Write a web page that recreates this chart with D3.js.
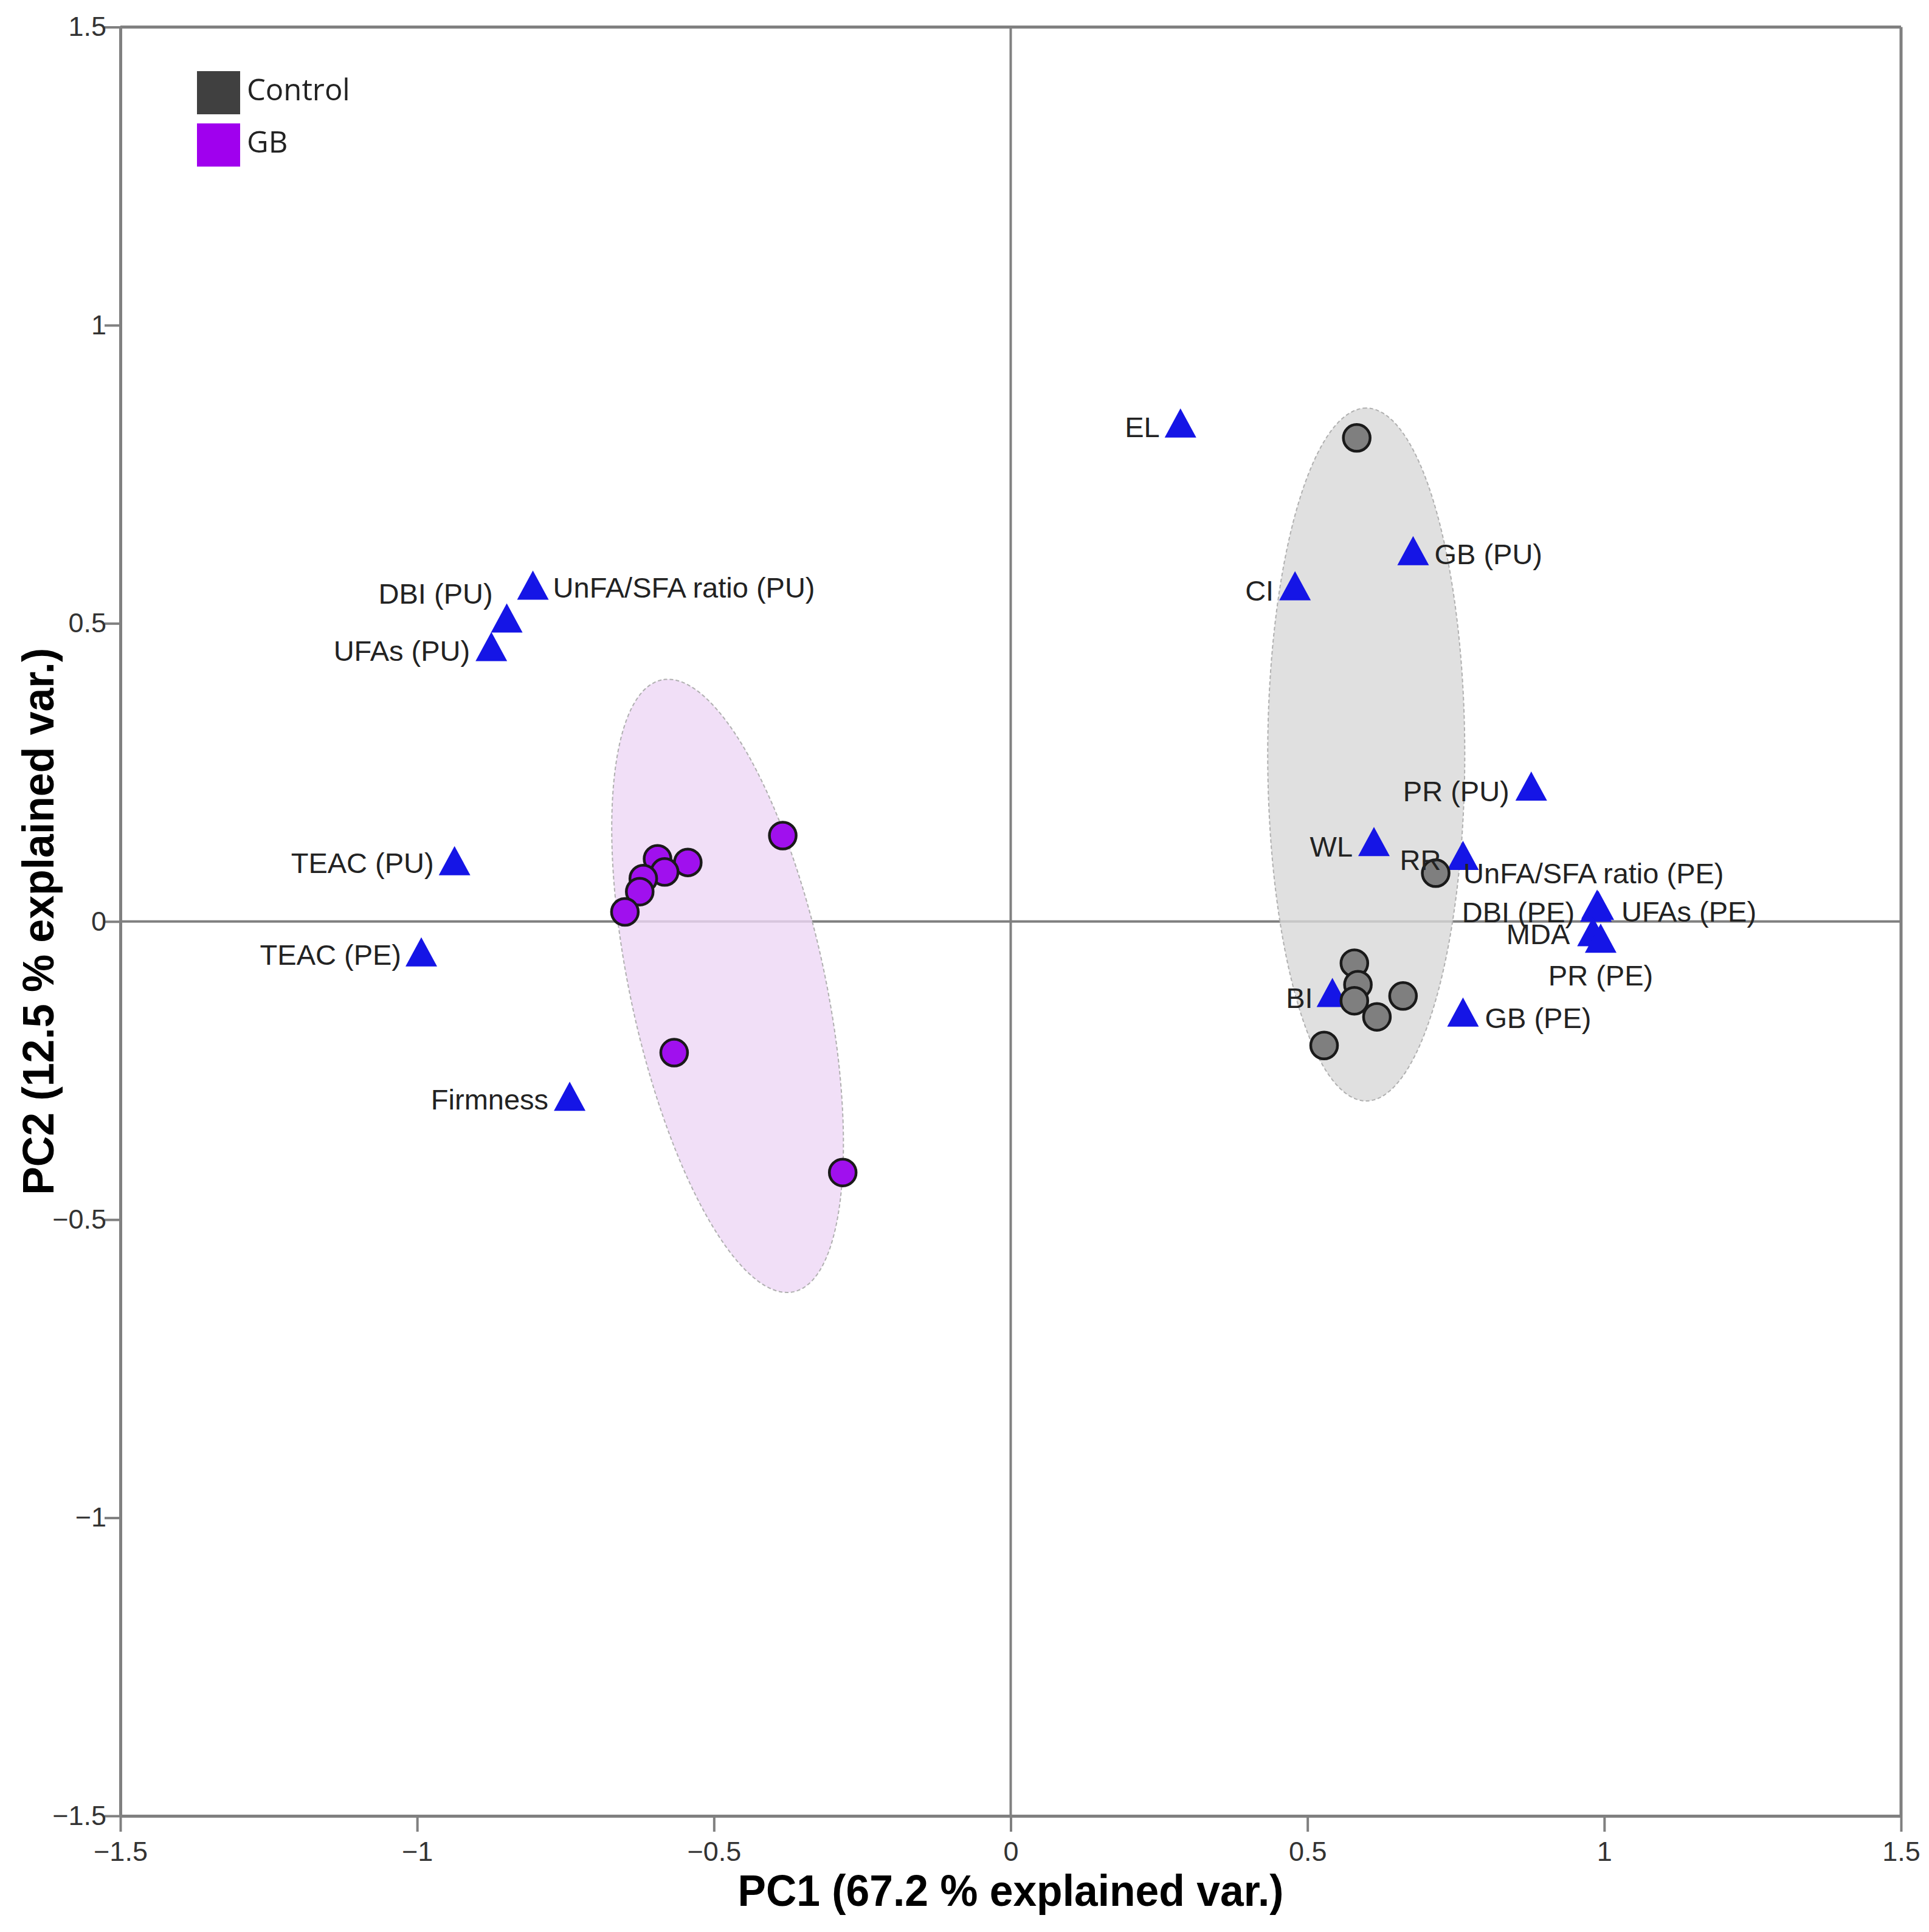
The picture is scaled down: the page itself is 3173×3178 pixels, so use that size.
<!DOCTYPE html>
<html>
<head>
<meta charset="utf-8">
<script src="https://cdn.jsdelivr.net/npm/d3@7"></script>
<style>
  body { margin: 0; background: #fff; }
</style>
</head>
<body>
<div id="chart"></div>
<script>
// sample scores (PC1 / PC2)
const controlPC1 = [0.583, 0.716, 0.579, 0.585, 0.579, 0.661, 0.617, 0.528];
const controlPC2 = [0.811, 0.081, -0.070, -0.106, -0.133, -0.125, -0.160, -0.208];
const gbPC1 = [-0.384, -0.595, -0.544, -0.583, -0.619, -0.625, -0.650, -0.567, -0.283];
const gbPC2 = [0.144, 0.105, 0.099, 0.083, 0.072, 0.050, 0.016, -0.220, -0.421];

// variable loadings
const loadingNames = ["EL", "GB (PU)", "CI", "UnFA/SFA ratio (PU)", "DBI (PU)", "UFAs (PU)",
    "TEAC (PU)", "TEAC (PE)", "Firmness", "PR (PU)", "WL", "RR", "UnFA/SFA ratio (PE)",
    "DBI (PE)", "UFAs (PE)", "MDA", "PR (PE)", "BI", "GB (PE)"];
const loadingPC1 = [0.286, 0.678, 0.479, -0.805, -0.849, -0.875, -0.937, -0.993, -0.743,
    0.877, 0.612, 0.762, 0.988, 0.986, 0.990, 0.981, 0.994, 0.542, 0.762];
const loadingPC2 = [0.836, 0.622, 0.563, 0.564, 0.509, 0.461, 0.102, -0.051, -0.293,
    0.227, 0.134, 0.111, 0.029, 0.024, 0.027, -0.017, -0.028, -0.119, -0.152];

// group ellipses
const groups = ["Control", "GB"];
const ellipseCenterPC1 = [0.599, -0.477];
const ellipseCenterPC2 = [0.280, -0.108];
const ellipseMajor = [0.581, 0.525];
const ellipseMinor = [0.166, 0.164];
const ellipseAngle = [90, 102.25];   // degrees, major axis from PC1 axis

const tickValues = [-1.5, -1, -0.5, 0, 0.5, 1, 1.5];
const tickLabels = ["\u22121.5", "\u22121", "\u22120.5", "0", "0.5", "1", "1.5"];

// label placement around each triangle: anchor, dx, dy (px)
const labelPlace = {
    "EL": ["end", -34, 6],
    "GB (PU)": ["start", 35, 5],
    "CI": ["end", -35, 7],
    "UnFA/SFA ratio (PU)": ["start", 33, 3],
    "DBI (PU)": ["end", -23, -41],
    "UFAs (PU)": ["end", -35, 6],
    "TEAC (PU)": ["end", -34, 3],
    "TEAC (PE)": ["end", -33, 4],
    "Firmness": ["end", -35, 5],
    "PR (PU)": ["end", -36, 8],
    "WL": ["end", -35, 8],
    "RR": ["end", -36, 7],
    "UnFA/SFA ratio (PE)": ["start", -220, -51],
    "DBI (PE)": ["end", -35, 8],
    "UFAs (PE)": ["start", 38, 10],
    "MDA": ["end", -38, 4],
    "PR (PE)": ["middle", 0, 61],
    "BI": ["end", -32, 9],
    "GB (PE)": ["start", 36, 9]
};

const W = 3173, H = 3178;
const plotLeft = 198, plotRight = 3127, plotTop = 44.5, plotBottom = 2987;
const axisColor = "#808080";
const pointFill = { "Control": "#7f7f7f", "GB": "#a010ee" };
const legendFill = { "Control": "#404040", "GB": "#a000ee" };
const ellipseFill = { "Control": "#d8d8d8", "GB": "#edd7f5" };

const svg = d3.select("#chart").append("svg")
    .attr("width", W)
    .attr("height", H)
    .style("font-family", "'Liberation Sans', Arial, sans-serif");

const x = d3.scaleLinear().domain([-1.5, 1.5]).range([plotLeft, plotRight]);
const y = d3.scaleLinear().domain([-1.5, 1.5]).range([plotBottom, plotTop]);

// zero lines
svg.append("line")
    .attr("x1", x(0)).attr("x2", x(0))
    .attr("y1", y(1.5)).attr("y2", y(-1.5))
    .attr("stroke", axisColor).attr("stroke-width", 4);
svg.append("line")
    .attr("x1", x(-1.5)).attr("x2", x(1.5))
    .attr("y1", y(0)).attr("y2", y(0))
    .attr("stroke", axisColor).attr("stroke-width", 4);

// ellipses
function ellipsePoints(i) {
    let pts = [];
    let th = ellipseAngle[i] * Math.PI / 180;
    for (let k = 0; k <= 180; k++) {
        let t = k / 180 * 2 * Math.PI;
        let u = ellipseMajor[i] * Math.cos(t);
        let v = ellipseMinor[i] * Math.sin(t);
        pts.push([ellipseCenterPC1[i] + u * Math.cos(th) - v * Math.sin(th),
                  ellipseCenterPC2[i] + u * Math.sin(th) + v * Math.cos(th)]);
    }
    return pts;
}
const ellipseLine = d3.line().x(d => x(d[0])).y(d => y(d[1]));
groups.forEach(function (g, i) {
    svg.append("path")
        .attr("d", ellipseLine(ellipsePoints(i)) + "Z")
        .attr("fill", ellipseFill[g])
        .attr("fill-opacity", 0.8)
        .attr("stroke", "#b0b0b0")
        .attr("stroke-width", 2)
        .attr("stroke-dasharray", "6,4");
});

// axes
const fmt = d => tickLabels[tickValues.indexOf(d)];
const xAxis = d3.axisBottom(x).tickValues(tickValues).tickFormat(fmt)
    .tickSizeInner(26).tickSizeOuter(0).tickPadding(16);
const yAxis = d3.axisLeft(y).tickValues(tickValues).tickFormat(fmt)
    .tickSizeInner(26).tickSizeOuter(0).tickPadding(-3);

const gx = svg.append("g").attr("transform", "translate(0," + plotBottom + ")").call(xAxis);
const gy = svg.append("g").attr("transform", "translate(" + plotLeft + ",0)").call(yAxis);
[gx, gy].forEach(function (g) {
    g.select(".domain").attr("stroke", axisColor).attr("stroke-width", 5);
    g.selectAll(".tick line").attr("stroke", axisColor).attr("stroke-width", 4);
    g.selectAll(".tick text")
        .attr("fill", "#333")
        .style("font-size", "45px")
        .style("font-family", "'Liberation Sans', Arial, sans-serif");
});

// frame top / right
svg.append("line")
    .attr("x1", x(-1.5)).attr("x2", x(1.5))
    .attr("y1", y(1.5)).attr("y2", y(1.5))
    .attr("stroke", axisColor).attr("stroke-width", 5);
svg.append("line")
    .attr("x1", x(1.5)).attr("x2", x(1.5))
    .attr("y1", y(1.5)).attr("y2", y(-1.5))
    .attr("stroke", axisColor).attr("stroke-width", 5);

// loadings (triangles)
const loadings = loadingNames.map((n, i) => ({ name: n, pc1: loadingPC1[i], pc2: loadingPC2[i] }));
svg.append("g").selectAll("path")
    .data(loadings)
    .join("path")
    .attr("transform", d => "translate(" + x(d.pc1) + "," + y(d.pc2) + ")")
    .attr("d", "M0,-24L26,24L-26,24Z")
    .attr("fill", "#1515e6");

// scores (circles)
const scores = controlPC1.map((v, i) => ({ group: "Control", pc1: v, pc2: controlPC2[i] }))
    .concat(gbPC1.map((v, i) => ({ group: "GB", pc1: v, pc2: gbPC2[i] })));
svg.append("g").selectAll("circle")
    .data(scores)
    .join("circle")
    .attr("cx", d => x(d.pc1))
    .attr("cy", d => y(d.pc2))
    .attr("r", 22)
    .attr("fill", d => pointFill[d.group])
    .attr("stroke", "#1a1a1a")
    .attr("stroke-width", 4.5);

// loading labels
svg.append("g").selectAll("text")
    .data(loadings)
    .join("text")
    .attr("x", d => x(d.pc1) + labelPlace[d.name][1])
    .attr("y", d => y(d.pc2) + labelPlace[d.name][2] + 17)
    .attr("text-anchor", d => labelPlace[d.name][0])
    .attr("fill", "#222")
    .style("font-size", "47px")
    .text(d => d.name);

// legend
const legend = svg.append("g").attr("transform", "translate(324,117)");
groups.forEach(function (g, i) {
    legend.append("rect")
        .attr("x", 0).attr("y", i * 86)
        .attr("width", 71).attr("height", 71)
        .attr("fill", legendFill[g]);
    legend.append("text")
        .attr("x", 82).attr("y", i * 86 + 48)
        .attr("fill", "#222")
        .style("font-family", "'Open Sans', 'Noto Sans', sans-serif")
        .style("font-size", "49px")
        .text(g);
});

// axis titles
svg.append("text")
    .attr("x", x(0))
    .attr("y", 3135)
    .attr("text-anchor", "middle")
    .attr("textLength", 898)
    .attr("lengthAdjust", "spacingAndGlyphs")
    .style("font-size", "72px")
    .style("font-weight", "bold")
    .attr("fill", "#000")
    .text("PC1 (67.2 % explained var.)");

svg.append("text")
    .attr("transform", "translate(88," + y(0) + ") rotate(-90)")
    .attr("text-anchor", "middle")
    .attr("textLength", 900)
    .attr("lengthAdjust", "spacingAndGlyphs")
    .style("font-size", "72px")
    .style("font-weight", "bold")
    .attr("fill", "#000")
    .text("PC2 (12.5 % explained var.)");
</script>
</body>
</html>
